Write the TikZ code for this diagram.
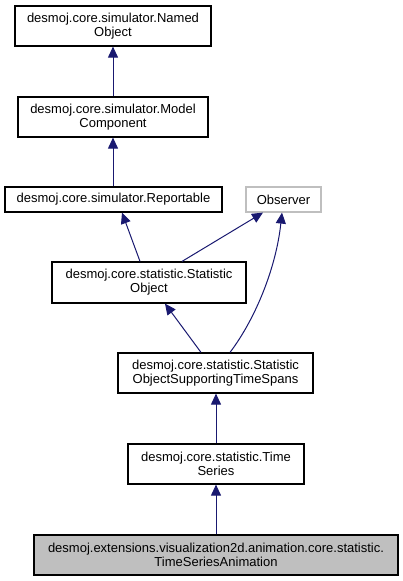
\documentclass[tikz,border=0pt]{standalone}
\usepackage{fontspec}
\setmainfont{Liberation Sans}
\usetikzlibrary{arrows.meta,calc}
\definecolor{edgeblue}{RGB}{25,25,112}
\definecolor{lightgrey}{RGB}{191,191,191}
\begin{document}
\begin{tikzpicture}[x=1pt,y=-1pt,
  cls/.style={draw=black,line width=1.2pt,rectangle,inner sep=0pt,align=center,
    font=\fontsize{13}{14}\selectfont,minimum height=40pt},
  ext/.style={cls,draw=lightgrey,minimum height=25pt},
  inh/.style={draw=edgeblue,line width=1pt,
    -{Triangle[length=11pt,width=10pt,fill=edgeblue]}}
]
\useasboundingbox (0,0) rectangle (403,581);
\node[cls,minimum width=196pt] (no) at (113,26) {desmoj.core.simulator.Named\\Object};
\node[cls,minimum width=190pt] (mc) at (113,117) {desmoj.core.simulator.Model\\Component};
\node[cls,minimum width=217pt,minimum height=25pt] (rep) at (113.5,199.5) {desmoj.core.simulator.Reportable};
\node[ext,minimum width=75pt] (obs) at (283.5,199.5) {Observer};
\node[cls,minimum width=194pt,minimum height=41pt] (so) at (149,282.5) {desmoj.core.statistic.Statistic\\Object};
\node[cls,minimum width=195pt] (sos) at (215.5,373) {desmoj.core.statistic.Statistic\\ObjectSupportingTimeSpans};
\node[cls,minimum width=176pt] (ts) at (216,464) {desmoj.core.statistic.Time\\Series};
\node[cls,minimum width=364pt,fill=lightgrey] (tsa) at (216,555) {desmoj.extensions.visualization2d.animation.core.statistic.\\TimeSeriesAnimation};

\draw[inh] (mc.north) -- (no.south);
\draw[inh] (rep.north -| mc.north) -- (mc.south);
\draw[inh] ([xshift=-9pt]so.north) -- ([xshift=8.5pt]rep.south);
\draw[inh] ([xshift=33pt]so.north) -- ([xshift=-20.5pt]obs.south);
\draw[inh] ([xshift=-14.5pt]sos.north) -- ([xshift=16pt]so.south);
\draw[inh] ([xshift=14.5pt]sos.north) .. controls ($([xshift=14.5pt]sos.north)+(25,-33)$) and ($([xshift=-1.5pt]obs.south)+(-6,56)$) .. ([xshift=-1.5pt]obs.south);
\draw[inh] (ts.north) -- (sos.south -| ts.north);
\draw[inh] (tsa.north) -- (ts.south);
\end{tikzpicture}
\end{document}
